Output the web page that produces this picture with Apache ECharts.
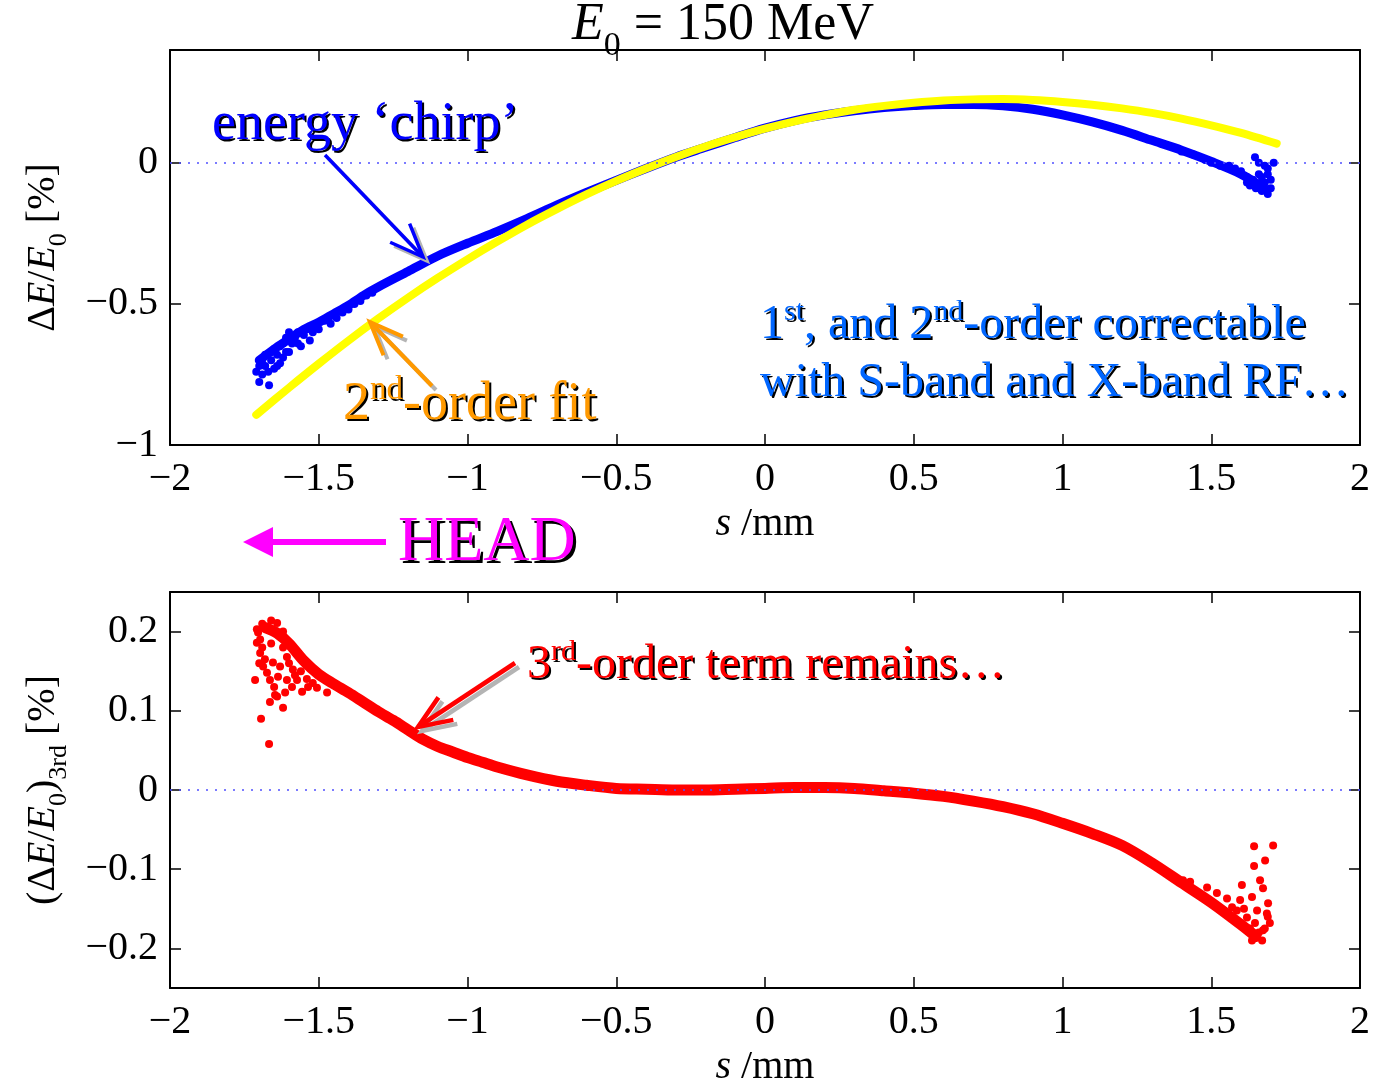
<!DOCTYPE html>
<html>
<head>
<meta charset="utf-8">
<title>E0 = 150 MeV</title>
<script src="https://cdn.jsdelivr.net/npm/echarts@6/dist/echarts.min.js"></script>
<style>
html, body { margin: 0; padding: 0; background: #fff; }
#main { width: 1375px; height: 1079px; }
</style>
</head>
<body>
<div id="main"></div>
<script>
var FONT = '"Liberation Serif", "Times New Roman", serif';

// tick positions
var sTicks = [-2, -1.5, -1, -0.5, 0, 0.5, 1, 1.5, 2];
var topTicks = [-1, -0.5, 0];
var botTicks = [-0.2, -0.1, 0, 0.1, 0.2];

// top panel: dense core of the measured band, [s /mm, dE/E0 %]
var chirpCore = [
  [-1.70,-0.70],[-1.65,-0.66],[-1.60,-0.625],[-1.55,-0.59],[-1.50,-0.565],[-1.45,-0.535],
  [-1.40,-0.505],[-1.35,-0.47],[-1.30,-0.44],[-1.20,-0.385],[-1.10,-0.33],[-1.00,-0.285],
  [-0.90,-0.243],[-0.80,-0.198],[-0.70,-0.15],[-0.60,-0.105],[-0.50,-0.062],[-0.40,-0.02],
  [-0.30,0.02],[-0.20,0.055],[-0.10,0.09],[0.00,0.123],[0.10,0.15],[0.20,0.17],[0.30,0.185],
  [0.40,0.196],[0.50,0.203],[0.60,0.207],[0.70,0.207],[0.80,0.202],[0.90,0.19],[1.00,0.17],
  [1.10,0.145],[1.20,0.115],[1.30,0.08],[1.40,0.045],[1.50,0.005],[1.60,-0.04],[1.67,-0.085]
];
// top panel: loose particles at head and tail
var chirpStray = [
  [-1.71,-0.74],[-1.70,-0.777],[-1.69,-0.71],[-1.68,-0.68],[-1.67,-0.74],[-1.667,-0.788],
  [-1.66,-0.70],[-1.65,-0.66],[-1.64,-0.72],[-1.63,-0.65],[-1.62,-0.69],[-1.61,-0.62],
  [-1.60,-0.67],[-1.58,-0.62],[-1.56,-0.65],[-1.55,-0.61],[-1.53,-0.63],[-1.69,-0.75],
  [-1.70,-0.72],[-1.68,-0.72],[-1.66,-0.67],[-1.65,-0.73],[-1.64,-0.68],[-1.63,-0.71],
  [-1.62,-0.64],[-1.61,-0.67],[-1.60,-0.60],[-1.59,-0.64],[-1.57,-0.60],[-1.57,-0.64],
  [-1.54,-0.59],[-1.52,-0.60],[-1.50,-0.59],[-1.48,-0.56],[-1.46,-0.57],[-1.44,-0.55],
  [-1.42,-0.53],[-1.40,-0.52],[-1.38,-0.50],[-1.36,-0.49],[-1.34,-0.47],[-1.32,-0.46],
  [1.40,0.04],[1.44,0.03],[1.48,0.01],[1.50,0.0],[1.53,-0.01],[1.56,-0.01],
  [1.58,-0.02],[1.60,-0.03],[1.62,-0.05],[1.64,-0.06],[1.647,0.02],[1.65,-0.09],
  [1.66,-0.04],[1.66,0.0],[1.67,-0.10],[1.68,-0.07],[1.68,-0.01],[1.69,-0.02],
  [1.69,-0.11],[1.70,-0.09],[1.71,0.0],[1.65,-0.075],[1.67,-0.05],[1.63,-0.08],
  [1.66,-0.09],[1.68,-0.09],[1.70,-0.06],[1.69,-0.04],[1.67,-0.07],[1.62,-0.07]
];
// top panel: 2nd-order fit
var fit2 = [
  [-1.71,-0.893],[-1.6,-0.797],[-1.5,-0.712],[-1.4,-0.630],[-1.3,-0.552],[-1.2,-0.478],
  [-1.1,-0.408],[-1.0,-0.342],[-0.9,-0.279],[-0.8,-0.219],[-0.7,-0.164],[-0.6,-0.112],
  [-0.5,-0.064],[-0.4,-0.020],[-0.3,0.021],[-0.2,0.058],[-0.1,0.091],[0,0.121],[0.1,0.147],
  [0.2,0.169],[0.3,0.188],[0.4,0.202],[0.5,0.213],[0.6,0.221],[0.7,0.225],[0.8,0.226],
  [0.9,0.223],[1.0,0.216],[1.1,0.206],[1.2,0.193],[1.3,0.177],[1.4,0.157],[1.5,0.133],
  [1.6,0.106],[1.72,0.068]
];
// bottom panel: residual 3rd-order term, core of the band
var thirdCore = [
  [-1.68,0.205],[-1.64,0.198],[-1.60,0.185],[-1.55,0.163],[-1.50,0.146],[-1.45,0.134],
  [-1.40,0.123],[-1.35,0.111],[-1.30,0.099],[-1.25,0.088],[-1.20,0.076],[-1.15,0.064],
  [-1.10,0.055],[-1.05,0.048],[-1.00,0.041],[-0.95,0.035],[-0.90,0.029],[-0.80,0.019],
  [-0.70,0.011],[-0.60,0.006],[-0.50,0.002],[-0.40,0.001],[-0.30,0.0],[-0.20,0.0],
  [-0.10,0.001],[0.00,0.002],[0.10,0.003],[0.20,0.003],[0.30,0.002],[0.40,-0.001],
  [0.50,-0.004],[0.60,-0.008],[0.70,-0.014],[0.80,-0.021],[0.90,-0.030],[1.00,-0.042],
  [1.10,-0.055],[1.20,-0.070],[1.30,-0.092],[1.40,-0.117],[1.50,-0.142],[1.60,-0.170],
  [1.65,-0.185]
];
// bottom panel: loose particles
var thirdStray = [
  [-1.714,0.139],[-1.697,0.173],[-1.694,0.090],[-1.667,0.058],[-1.664,0.111],[-1.647,0.120],
  [-1.620,0.104],[-1.613,0.123],[-1.590,0.130],[-1.674,0.148],[-1.681,0.165],[-1.654,0.161],
  [-1.637,0.143],[-1.607,0.139],[-1.556,0.124],[-1.536,0.130],[-1.506,0.129],[-1.472,0.123],
  [-1.708,0.186],[-1.697,0.190],[-1.640,0.118],[-1.687,0.156],[-1.664,0.139],[-1.630,0.156],
  [-1.587,0.152],[-1.573,0.139],[-1.607,0.168],[-1.674,0.206],[-1.640,0.211],[-1.708,0.203],
  [-1.704,0.199],[-1.690,0.180],[-1.660,0.185],[-1.620,0.180],[-1.600,0.160],[-1.580,0.145],
  [-1.560,0.150],[-1.540,0.140],[-1.520,0.135],[-1.650,0.200],[-1.690,0.210],[-1.660,0.214],
  [-1.620,0.200],[-1.700,0.160],[-1.650,0.130],
  [1.644,-0.071],[1.708,-0.070],[1.681,-0.089],[1.644,-0.096],[1.603,-0.120],[1.664,-0.114],
  [1.637,-0.135],[1.691,-0.143],[1.687,-0.156],[1.697,-0.168],[1.671,-0.190],[1.637,-0.190],
  [1.597,-0.139],[1.553,-0.137],[1.519,-0.130],[1.486,-0.123],[1.429,-0.116],[1.405,-0.114],
  [1.586,-0.152],[1.654,-0.152],[1.674,-0.177],[1.620,-0.161],[1.674,-0.124],[1.647,-0.168],
  [1.660,-0.180],[1.680,-0.175],[1.690,-0.160],[1.630,-0.175],[1.610,-0.150],[1.570,-0.148]
];

function fmt(v) {
  return v < 0 ? '\u2212' + String(-v) : String(v);
}

// rich text styles: normal, italic, superscript, subscript
function richFor(color, size) {
  var base = { fontFamily: FONT, fontSize: size, lineHeight: Math.round(size * 1.15), color: color, fill: color };
  return {
    n: base,
    i: Object.assign({}, base, { fontStyle: 'italic' }),
    sup: Object.assign({}, base, { fontSize: Math.round(size * 0.62), lineHeight: Math.round(size * 0.7), verticalAlign: 'top' }),
    sub: Object.assign({}, base, { fontSize: Math.round(size * 0.66), lineHeight: Math.round(size * 0.66), padding: [Math.round(size * 0.8), 0, 0, 0] })
  };
}

function sAxis(grid, bottom) {
  return {
    type: 'value', gridIndex: grid, position: bottom ? 'bottom' : 'top',
    min: -2, max: 2, interval: 0.5,
    axisLine: { show: true, onZero: false, lineStyle: { color: '#000', width: 2 } },
    axisTick: { show: true, inside: true, length: 11, lineStyle: { color: '#000', width: 1.5 } },
    axisLabel: { show: bottom, margin: 14, color: '#000', fontFamily: FONT, fontSize: 40, formatter: fmt },
    splitLine: { show: false },
    name: bottom ? '{i|s}{n| /mm}' : '',
    nameLocation: 'middle', nameGap: 56,
    nameTextStyle: { rich: richFor('#000', 40) }
  };
}

function yAxis(grid, left, min, max, ticks, name) {
  return {
    type: 'value', gridIndex: grid, position: left ? 'left' : 'right',
    min: min, max: max,
    axisLine: { show: true, onZero: false, lineStyle: { color: '#000', width: 2 } },
    axisTick: { show: true, inside: true, length: 11, customValues: ticks, lineStyle: { color: '#000', width: 1.5 } },
    axisLabel: { show: left, margin: 12, customValues: ticks, color: '#000', fontFamily: FONT, fontSize: 40, formatter: fmt },
    splitLine: { show: false },
    name: left ? name : '',
    nameLocation: 'middle', nameRotate: 90, nameGap: 104,
    nameTextStyle: { rich: richFor('#000', 40) }
  };
}

var zeroLine = {
  silent: true, symbol: 'none', label: { show: false },
  lineStyle: { color: '#5050ff', type: [2, 7], width: 1.5 },
  data: [{ yAxis: 0 }]
};

// arrow with open V head
function arrow(x1, y1, x2, y2, color, lw, head, z) {
  var a = Math.atan2(y1 - y2, x1 - x2), h = 22 * Math.PI / 180;
  var p1 = [x2 + head * Math.cos(a + h), y2 + head * Math.sin(a + h)];
  var p2 = [x2 + head * Math.cos(a - h), y2 + head * Math.sin(a - h)];
  return [
    { type: 'polyline', z: z, shape: { points: [[x1, y1], [x2, y2]] }, style: { stroke: color, lineWidth: lw, fill: null } },
    { type: 'polyline', z: z, shape: { points: [p1, [x2, y2], p2] }, style: { stroke: color, lineWidth: lw, fill: null, lineJoin: 'miter' } }
  ];
}
function shadowedArrow(x1, y1, x2, y2, color, lw, head) {
  return arrow(x1 + 4, y1 + 4, x2 + 4, y2 + 4, '#b4b4b4', lw, head, 40)
    .concat(arrow(x1, y1, x2, y2, color, lw, head, 41));
}

function textEl(x, y, text, color, size, align, z) {
  return {
    type: 'text', x: x, y: y, z: z,
    style: {
      text: text, rich: richFor(color, size),
      fill: color, font: size + 'px ' + FONT,
      align: align, textAlign: align,
      verticalAlign: 'middle', textVerticalAlign: 'middle'
    }
  };
}
// coloured label with a hard black drop shadow behind it
function label(x, y, text, color, size, shadow, align) {
  align = align || 'left';
  var out = [];
  if (shadow) out.push(textEl(x + shadow, y + shadow, text, '#000', size, align, 49));
  out.push(textEl(x, y, text, color, size, align, 50));
  return out;
}

var graphics = []
  .concat(label(723, 25, '{i|E}{sub|0}{n| = 150 MeV}', '#000', 52, 0, 'center'))
  .concat(label(212, 125, '{n|energy \u2018chirp\u2019}', '#0000ff', 54, 2))
  .concat(label(343, 405, '{n|2}{sup|nd}{n|-order fit}', '#ff9900', 54, 2))
  .concat(label(760, 325, '{n|1}{sup|st}{n|, and 2}{sup|nd}{n|-order correctable}', '#0066ff', 48, 2))
  .concat(label(760, 383, '{n|with S-band and X-band RF\u2026}', '#0066ff', 48, 2))
  .concat(label(527, 665, '{n|3}{sup|rd}{n|-order term remains\u2026}', '#ff0000', 48, 2))
  .concat(label(398, 543, '{n|HEAD}', '#ff00ff', 64, 3))
  .concat([
    { type: 'polyline', z: 45, shape: { points: [[386, 542], [268, 542]] }, style: { stroke: '#ff00ff', lineWidth: 6, fill: null } },
    { type: 'polygon', z: 45, shape: { points: [[243, 542], [273, 527], [273, 557]] }, style: { fill: '#ff00ff' } }
  ])
  .concat(shadowedArrow(325, 155, 423, 257, '#0000ff', 3.5, 36))
  .concat(shadowedArrow(432, 386, 370, 322, '#ff9900', 4, 36))
  .concat(shadowedArrow(515, 663, 418, 727, '#ff0000', 4.5, 36));

var chart = echarts.init(document.getElementById('main'));
chart.setOption({
  animation: false,
  backgroundColor: '#fff',
  grid: [
    { left: 170, top: 50, width: 1190, height: 395, outerBoundsMode: 'none', containLabel: false },
    { left: 170, top: 592, width: 1190, height: 396, outerBoundsMode: 'none', containLabel: false }
  ],
  xAxis: [sAxis(0, true), sAxis(0, false), sAxis(1, true), sAxis(1, false)],
  yAxis: [
    yAxis(0, true, -1, 0.4, topTicks, '{n|\u0394}{i|E}{n|/}{i|E}{sub|0}{n| [%]}'),
    yAxis(0, false, -1, 0.4, topTicks, ''),
    yAxis(1, true, -0.25, 0.25, botTicks, '{n|(\u0394}{i|E}{n|/}{i|E}{sub|0}{n|)}{sub|3rd}{n| [%]}'),
    yAxis(1, false, -0.25, 0.25, botTicks, '')
  ],
  series: [
    {
      type: 'line', xAxisIndex: 0, yAxisIndex: 0, data: chirpCore, smooth: 0.3, showSymbol: false,
      silent: true, z: 2, lineStyle: { color: '#0000ff', width: 9, cap: 'round' }, markLine: zeroLine
    },
    {
      type: 'scatter', xAxisIndex: 0, yAxisIndex: 0, data: chirpStray, symbolSize: 8,
      silent: true, z: 3, itemStyle: { color: '#0000ff', opacity: 1 }
    },
    {
      type: 'line', xAxisIndex: 0, yAxisIndex: 0, data: fit2, smooth: 0.3, showSymbol: false,
      silent: true, z: 4, lineStyle: { color: '#ffff00', width: 8, cap: 'round' }
    },
    {
      type: 'line', xAxisIndex: 2, yAxisIndex: 2, data: thirdCore, smooth: 0.3, showSymbol: false,
      silent: true, z: 2, lineStyle: { color: '#ff0000', width: 11, cap: 'round' }, markLine: zeroLine
    },
    {
      type: 'scatter', xAxisIndex: 2, yAxisIndex: 2, data: thirdStray, symbolSize: 8,
      silent: true, z: 3, itemStyle: { color: '#ff0000', opacity: 1 }
    }
  ],
  graphic: graphics
});
</script>
</body>
</html>
